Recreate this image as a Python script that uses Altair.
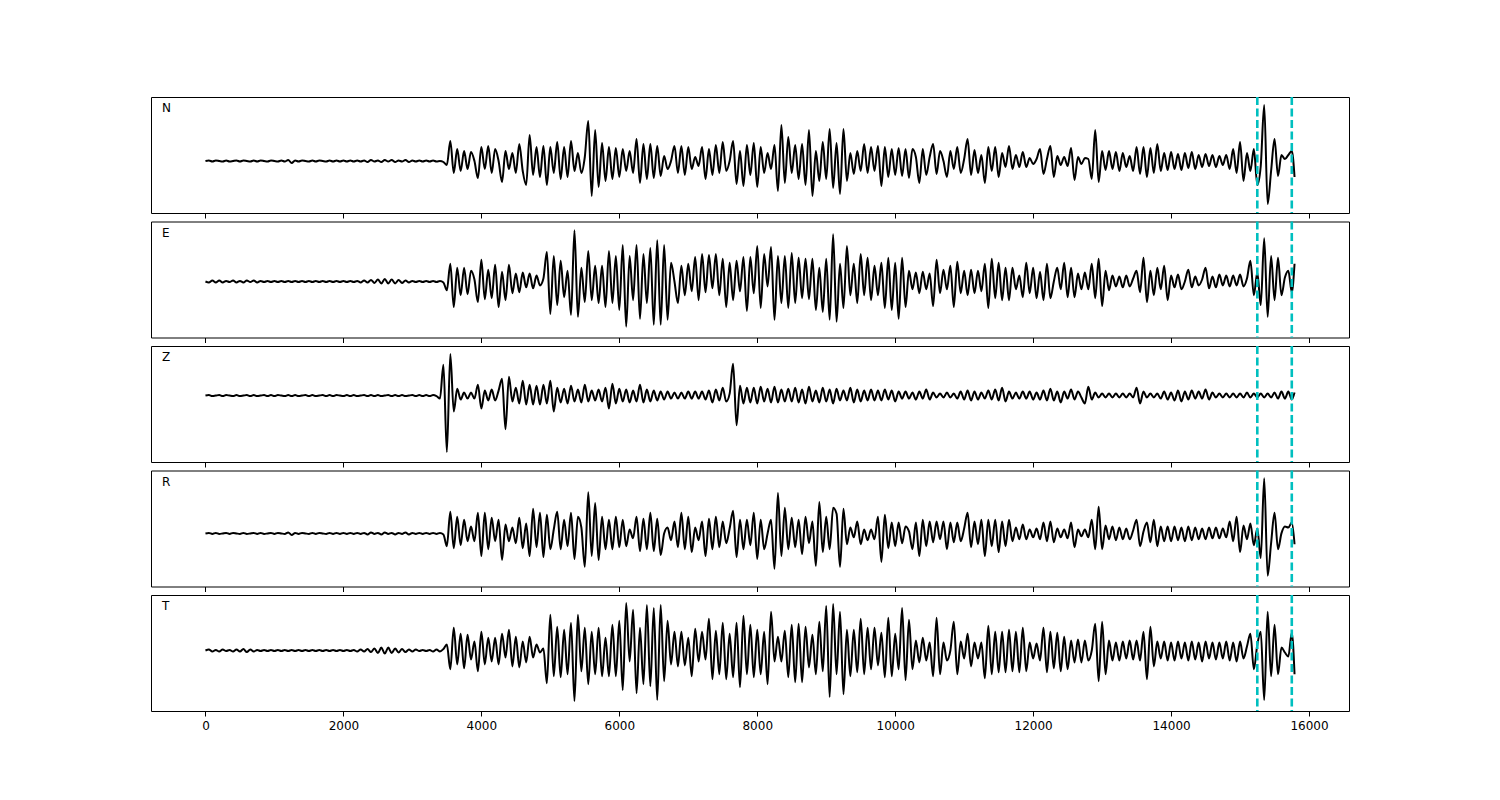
import altair as alt
import pandas as pd

# ---------------- data (amplitudes, arbitrary units) ----------------
SAMPLE_STEP = 50
END_TIME = 15790
times = list(range(0, 15751, SAMPLE_STEP)) + [END_TIME]

components = ["N", "E", "Z", "R", "T"]
picks = [15250, 15750]
x_ticks = [0, 2000, 4000, 6000, 8000, 10000, 12000, 14000, 16000]

N = [0, 0.5, -0.5, 0.5, 0, -0.5, 0.5, -0.5, 0, 0.5,
     -0.5, 0.5, 0, -0.5, 0.5, -0.5, 0.5, 0, -0.5, 0.5,
     0, -0.5, 0.5, -0.5, 1, -2, 0.5, -0.5, 0.5, 0,
     -0.5, 0.5, -0.5, 0.5, 0, -0.5, 0.5, -0.5, 0.5, -0.5,
     0.5, -0.5, 0.5, -0.5, 0.5, -0.5, 0.5, -1, 1, -0.5,
     0.5, -1, 1, -0.5, 1, -1, 0.5, -0.5, 1, -1,
     0.5, -0.5, 0.5, -0.5, 0.5, -0.5, 0.5, -0.5, 0, -1,
     -4, 20, -12, 12, -10, 10, -8, 9, 0, -17,
     14, -8, 15, -12, 12, 0, -21, 10, -8, 8,
     -12, 17, -10, -24, 26, -14, 14, -16, 15, -24,
     14, -12, 19, -18, 14, -16, 20, -10, 8, -12,
     4, 40, -35, 31, -26, 18, -20, 14, -18, 13,
     -16, 12, -10, 10, -12, 22, -22, 17, -18, 17,
     -17, 15, -15, 5, -8, 0, 15, -12, 15, -14,
     14, -8, 4, -5, 14, -18, 12, -14, 16, -12,
     19, -10, 0, 20, -23, 10, -25, 16, -14, 18,
     -26, 14, -12, 8, -8, 16, -30, 36, -22, 24,
     -12, 16, -18, 17, -24, 31, -35, 10, -20, 19,
     -18, 32, -27, 18, -33, 32, -20, 8, -13, 10,
     -10, 17, -12, 14, -10, 15,
     -25, 14, -16, 12, -14, 13, -15, 12, -17, 12,
     4, -22, 12, -14, 4, 17, -13, 10, 0, -16,
     10, -8, 14, -12, 2, 22, -14, 11, -12, 6,
     -22, 14, -10, 14, -16, 8, -6, 15, -8, 6,
     -6, 9, -6, 3, -3, 2, 12, -13, 2, 15,
     -16, 5, -4, 4, -5, 13, -19, 4, -3, 3,
     2, -18, 31, -21, 10, -9, 10, -8, 9, -10,
     8, -6, 5, -10, 14, -13, 14, -16, 13, -12,
     17, -10, 8, -9, 9, -8, 7, -9, 8, -7,
     9, -8, 6, -6, 7, -5, 6, -6, 5, -4,
     6, -8, 12, -12, 19, -20, 8, -10, 12, -24,
     -5, 56, -43, -10, 22, -15, 6, 2, 6, 10, -16]

E = [0, -1, 1, -1, 1, -1, 0.5, -0.5, 1, -1,
     0.5, -1, 1, -0.5, 1, -1, 0.5, -0.5, 0.5, -0.5,
     0.5, -0.5, 0.5, -0.5, 0.5, -0.5, 0.5, -0.5, 0.5, -0.5,
     0.5, -0.5, 0.5, -0.5, 0.5, -0.5, 0.5, -0.5, 0.5, -0.5,
     0.5, -0.5, 0.5, -0.5, 0.5, -1, 1, -1, 1.5, -1.5,
     2, -2, 2.5, -2, 2, -2, 1.5, -1.5, 1, -1,
     0.5, -0.5, 0.5, -0.5, 0.5, -0.5, 0.5, -0.5, 0.5, -1,
     -9, 18, -26, 14, -14, 14, -13, 11, 2, -21,
     22, -18, 12, -17, 17, -26, 10, -19, 17, -12,
     8, -11, 9, -6, 8, -7, 6, -4, 3, 30,
     -33, 26, -24, 21, -16, 11, -34, 52, -36, 14,
     -21, 31, -19, 16, -22, 16, -26, 31, -22, 26,
     -29, 37, -46, 26, -19, 37, -38, 28, -22, 34,
     -44, 42, -44, 37, -39, 19, 0, -22, 16, -14,
     18, -10, 25, -19, 28, -11, 27, -7, 28, -14,
     23, -26, 19, -19, 21, -10, 25, -30, 25, -12,
     36, -27, 28, -5, 35, -39, 26, -22, 26, -27,
     29, -22, 24, -17, 23, -18, 23, -29, 14, -31,
     23, -39, 48, -41, 18, -27, 36, -14, 18, -22,
     28, -14, 24, -19, 16, -14,
     19, -27, 24, -29, 19, -38, 24, -26, 11, -8,
     9, -12, 10, -8, 8, -25, 22, -12, 12, -8,
     16, -26, 20, -12, 11, -14, 12, -12, 11, -10,
     18, -27, 23, -17, 19, -19, 14, -19, 14, -8,
     6, -16, 19, -12, 14, -17, 10, -19, 18, -17,
     0, 14, -8, 19, -16, 14, -16, 8, -8, 9,
     -8, 18, -17, 23, -25, 11, -9, 6, -5, 5,
     -6, 6, -5, 3, 11, -11, 24, -21, 11, -14,
     14, -8, 16, -19, 6, -6, 7, -8, 0, 12,
     -6, 5, -4, 2, 14, -7, 5, -6, 7, -4,
     6, -5, 6, -4, 7, -5, 3, 21, -14, 9,
     -24, 44, -36, 26, -19, 24, -14, 4, 11, -11, 18]

Z = [0, 0.5, -0.5, 0, 0.5, -0.5, 0.5, 0, -0.5, 0.5,
     -0.5, 0, 0.5, -0.5, 0.5, -0.5, 0, 0.5, -0.5, 0.5,
     -0.5, 0.5, 0, -0.5, 0.5, -0.5, 0.5, -0.5, 0, 0.5,
     -0.5, 0.5, -0.5, 0, 0.5, -0.5, 0.5, -0.5, 0.5, 0,
     -0.5, 0.5, -0.5, 0.5, -0.5, 0, 0.5, -0.5, 0.5, -0.5,
     0.5, -0.5, 0, 0.5, -0.5, 0.5, -0.5, 0.5, -0.5, 0,
     0.5, -0.5, 0.5, -0.5, 0.5, -0.5, 0.5, -0.5, -3, 31,
     -57, 42, -16, 7, -4, 3, -3, 3, -3, 11,
     -13, 5, -5, 6, -5, 5, 17, -34, 19, -6,
     8, -8, 15, -9, 11, -9, 10, -9, 11, -8,
     15, -16, 8, -7, 7, -8, 10, -6, 6, -7,
     11, -6, 5, -5, 6, -6, 8, -13, 12, -8,
     7, -6, 6, -7, 5, -6, 11, -7, 6, -6,
     5, -5, 4, -4, 4, -3, 3, -3, 3, -3,
     4, -3, 4, -3, 4, -4, 5, -7, 6, -5,
     8, -6, 2, 32, -30, 10, -8, 8, -7, 8,
     -8, 9, -6, 7, -7, 9, -7, 6, -6, 7,
     -6, 8, -7, 6, -8, 9, -6, 5, -7, 8,
     -6, 6, -8, 7, -5, 5, -5, 8, -7, 6,
     -6, 5, -5, 6, -5, 5,
     -5, 6, -4, 5, -6, 4, -3, 4, -3, 3,
     -4, 4, -3, 6, -4, 3, -2, 2, -2, 3,
     -2, 2, -3, 4, -4, 5, -5, 4, -4, 3,
     -3, 5, -4, 6, -5, 8, -6, 4, -3, 3,
     -3, 4, -3, 4, -4, 3, -4, 5, -5, 7,
     -5, 4, -7, 4, -3, 6, -4, 4, -2, -8,
     9, -4, 3, -2, 2, -2, 2, -2, 2, -2,
     2, -2, 2, -2, 8, -8, 4, -2, 2, -2,
     2, -3, 4, -4, 3, -5, 5, -6, 4, -4,
     5, -3, 4, -3, 6, -4, 3, -2, 2, -2,
     2, -2, 2, -2, 2, -2, 3, -2, 2, -2,
     2, -2, 2, -2, 3, -3, 4, -3, 4, -4, 3]

R = [0, 0.5, -0.5, 0.5, -0.5, 0, 0.5, -0.5, 0.5, 0,
     -0.5, 0.5, -0.5, 0, 0.5, -0.5, 0.5, -0.5, 0, 0.5,
     -0.5, 0.5, 0, -0.5, 1, -1.5, 0.5, -0.5, 0.5, 0,
     -0.5, 0.5, -0.5, 0.5, 0, -0.5, 0.5, -0.5, 0.5, -0.5,
     0.5, -0.5, 0.5, -0.5, 0.5, -0.5, 0.5, -1, 1, -0.5,
     0.5, -1, 1, -0.5, 0.5, -1, 0.5, -0.5, 1, -1,
     0.5, -0.5, 0.5, -0.5, 0.5, -0.5, 0.5, -0.5, 0.5, -1,
     -13, 22, -15, 17, -12, 14, -8, 7, -8, 21,
     -23, 21, -16, 16, -8, 14, -27, 9, -8, 6,
     -10, 16, -15, 10, -23, 25, -14, 21, -24, 19,
     -16, 4, 22, -16, 14, -13, 21, -26, 17, 6,
     -34, 42, -23, 31, -27, 17, -16, 14, -16, 17,
     -14, 14, -13, 4, -5, 17, -18, 15, -16, 21,
     -18, 15, -22, 0, 6, -7, 12, -14, 21, -16,
     17, -19, 6, -7, 12, -23, 15, -16, 17, -14,
     12, -10, 5, 23, -24, 14, -16, 14, -12, 21,
     -26, 14, -16, 0, 14, -36, 41, -23, 26, -16,
     16, -14, 14, -21, 17, -10, 12, -33, 32, -19,
     17, -16, 26, 20, -34, 25, -11, 6, -4, 12,
     -11, 4, -7, 4, -6, 17,
     -29, 19, -15, 11, -13, 11, -10, 7, 2, -16,
     11, -23, 14, -13, 12, -9, 12, -6, 12, -16,
     11, -9, 11, -8, 5, 21, -14, 12, -11, 14,
     -23, 14, -13, 14, -19, 12, -13, 14, -8, 6,
     -6, 9, -6, 4, -4, 5, -6, 11, -8, 12,
     -9, 5, -4, 4, -5, 11, -14, 4, -3, 4,
     -4, 14, -16, 27, -16, 8, -6, 7, -7, 6,
     -6, 5, -6, 3, 14, -13, 2, 11, -9, 14,
     -13, 7, -8, 7, -8, 7, -7, 6, -8, 7,
     -7, 6, -6, 5, -6, 6, -5, 6, -5, 5,
     -4, 12, -8, 17, -19, 8, -6, 10, -12, 5,
     -25, 56, -43, -10, 21, -16, 0, 7, 6, 11, -11]

T = [0, 1, -1, 0.5, -1, 1, -0.5, 0.5, -1, 1,
     -1, 1.5, -1.5, 1, -1, 0.5, -0.5, 0.5, -0.5, 0.5,
     -0.5, 0.5, -0.5, 0.5, -0.5, 0.5, -0.5, 0.5, -0.5, 0.5,
     -0.5, 0.5, -0.5, 0.5, -0.5, 0.5, -0.5, 0.5, -0.5, 0.5,
     -0.5, 0.5, -0.5, 0.5, -1, 1, -1, 1.5, -1.5, 2,
     -2.5, 3, -3, 3, -2.5, 2, -2, 1.5, -1.5, 1,
     -1, 1, -0.5, 0.5, -0.5, 0.5, -1, 1, -1, 1.5,
     6, -19, 23, -14, 17, -18, 16, -9, 9, -21,
     19, -14, 13, -11, 13, -14, 17, -7, 21, -16,
     14, -17, 9, -12, 14, -7, 6, -2, 2, -33,
     36, -26, 24, -27, 21, -24, 28, -51, 36, -21,
     23, -34, 19, -24, 23, -26, 13, -26, 26, -26,
     30, -40, 48, -11, 41, -43, 23, -34, 46, -36,
     43, -50, 46, -31, 30, -14, 19, -16, 19, -15,
     13, -26, 22, -11, 19, -9, 32, -29, 20, -24,
     28, -29, 17, -27, 28, -37, 35, -24, 26, -27,
     21, -24, 19, -34, 39, -11, 14, -11, 20, -27,
     26, -32, 27, -32, 24, -17, 16, -24, 29, -21,
     45, -47, 47, -24, 39, -44, 21, -26, 21, -22,
     32, -24, 23, -19, 23, -15,
     18, -27, 33, -26, 17, -19, 43, -30, 31, -19,
     10, -12, 13, -10, 8, -26, 33, -24, 8, -10,
     0, 29, -24, 9, -8, 17, -16, 8, -8, 8,
     -28, 25, -24, 19, -22, 19, -22, 21, -21, 19,
     -22, 23, -21, 8, -8, 7, -10, 23, -22, 19,
     -18, 18, -21, 14, -19, 10, -12, 11, -12, 10,
     -10, 0, 27, -31, 29, -24, 10, -10, 8, -10,
     9, -8, 10, -9, 10, -10, 19, -29, 24, -16,
     9, -8, 9, -10, 8, -10, 9, -8, 8, -10,
     9, -9, 8, -11, 9, -8, 8, -9, 8, -8,
     9, -10, 8, -11, 9, -8, 4, 17, -19, 6,
     19, -50, 39, -26, 26, -24, 3, -2, -6, 18, -24]

traces = {"N": N, "E": E, "Z": Z, "R": R, "T": T}
y_limits = {"N": [-52, 64], "E": [-57, 61], "Z": [-67, 50], "R": [-54, 64], "T": [-61, 56]}
x_domain = [-789.5, 16579.5]

# ---------------- chart ----------------
panels = []
for k, comp in enumerate(components):
    vals = traces[comp]
    n = min(len(vals), len(times))
    df = pd.DataFrame({"t": times[:n], "a": vals[:n]})
    last = k == len(components) - 1
    xaxis = alt.Axis(values=x_ticks, labels=last, ticks=True, tickSize=5, tickWidth=1,
                     tickColor="black", domain=False, grid=False, title=None,
                     labelFontSize=12, labelColor="black", labelFont="DejaVu Sans",
                     labelPadding=4, format="d")
    xscale = alt.Scale(domain=x_domain, nice=False, zero=False)
    line = alt.Chart(df).mark_line(color="black", strokeWidth=2, interpolate="monotone").encode(
        x=alt.X("t:Q", scale=xscale, axis=xaxis),
        y=alt.Y("a:Q", scale=alt.Scale(domain=y_limits[comp], nice=False, zero=False), axis=None),
    )
    rules = alt.Chart(pd.DataFrame({"t": picks})).mark_rule(
        color="#00bfbf", strokeWidth=2.6, strokeDash=[8, 3.5]
    ).encode(x=alt.X("t:Q", scale=xscale, axis=xaxis))
    label = alt.Chart(pd.DataFrame({"c": [comp]})).mark_text(
        align="left", baseline="middle", fontSize=12, font="DejaVu Sans", color="black"
    ).encode(x=alt.value(11), y=alt.value(11), text="c:N")
    panels.append(alt.layer(line, rules, label).properties(width=1198, height=116))

chart = alt.vconcat(*panels, spacing=0.5).properties(
    padding={"left": 142, "top": 87, "right": 0, "bottom": 0}
).configure_view(stroke="black", strokeWidth=1)

chart.save("out.html", embed_options={"renderer": "svg", "actions": False})
